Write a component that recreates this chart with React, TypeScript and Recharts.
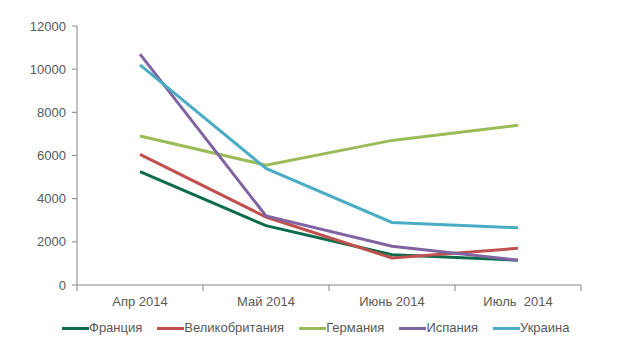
import React from "react";
import { LineChart, Line, XAxis, YAxis } from "recharts";

const months = ["Апр 2014", "Май 2014", "Июнь 2014", "Июль  2014"];
const france = [5250, 2750, 1400, 1150];
const uk = [6050, 3150, 1250, 1700];
const germany = [6900, 5550, 6700, 7400];
const spain = [10700, 3200, 1800, 1150];
const ukraine = [10200, 5400, 2900, 2650];
const yTicks = [0, 2000, 4000, 6000, 8000, 10000, 12000];

const series = [
  { key: "france", name: "Франция", color: "#0b6b4a", values: france },
  { key: "uk", name: "Великобритания", color: "#c0504d", values: uk },
  { key: "germany", name: "Германия", color: "#9bbb59", values: germany },
  { key: "spain", name: "Испания", color: "#8064a2", values: spain },
  { key: "ukraine", name: "Украина", color: "#4bacc6", values: ukraine },
];

const data = months.map((m, i) => {
  const row: Record<string, number | string> = { x: i + 0.5, month: m };
  series.forEach((s) => (row[s.key] = s.values[i]));
  return row;
});

const FONT = "'Liberation Sans', Arial, sans-serif";
const TEXT = "#595959";
const AXIS = "#868686";

// boundary ticks are integers (draw a mark), centre ticks are halves (draw a label)
function XTick(props: any) {
  const { x, y, payload } = props;
  const v = payload.value as number;
  if (Number.isInteger(v)) {
    return <line x1={x} x2={x} y1={y - 8} y2={y - 2} stroke={AXIS} strokeWidth={1} />;
  }
  return (
    <text
      x={x}
      y={y + 13}
      textAnchor="middle"
      fill={TEXT}
      fontSize={13}
      fontFamily={FONT}
      style={{ whiteSpace: "pre" }}
    >
      {months[Math.floor(v)]}
    </text>
  );
}

function LegendBox() {
  return (
    <div
      style={{
        position: "absolute",
        left: 62,
        top: 320,
        display: "flex",
        fontFamily: FONT,
        fontSize: 13,
        color: TEXT,
        lineHeight: "16px",
      }}
    >
      {series.map((s) => (
        <div key={s.key} style={{ display: "flex", alignItems: "center", marginRight: 15 }}>
          <span style={{ display: "inline-block", width: 27, height: 3, background: s.color }} />
          <span>{s.name}</span>
        </div>
      ))}
    </div>
  );
}

export default function App() {
  return (
    <div style={{ position: "absolute", left: 0, top: 0, width: 622, height: 356, background: "#fff" }}>
      <LineChart width={622} height={356} data={data} margin={{ top: 26, right: 41, bottom: 41, left: 17 }}>
        <XAxis
          dataKey="x"
          type="number"
          domain={[0, 4]}
          ticks={[0, 0.5, 1, 1.5, 2, 2.5, 3, 3.5, 4]}
          interval={0}
          tick={<XTick />}
          tickLine={false}
          stroke={AXIS}
          height={30}
        />
        <YAxis
          domain={[0, 12000]}
          ticks={yTicks}
          interval={0}
          width={60}
          stroke={AXIS}
          tickSize={5}
          tickMargin={6}
          tick={{ fill: TEXT, fontSize: 13, fontFamily: FONT }}
        />
        {series.map((s) => (
          <Line
            key={s.key}
            dataKey={s.key}
            name={s.name}
            stroke={s.color}
            strokeWidth={3}
            dot={false}
            activeDot={false}
            isAnimationActive={false}
          />
        ))}
      </LineChart>
      <LegendBox />
    </div>
  );
}
